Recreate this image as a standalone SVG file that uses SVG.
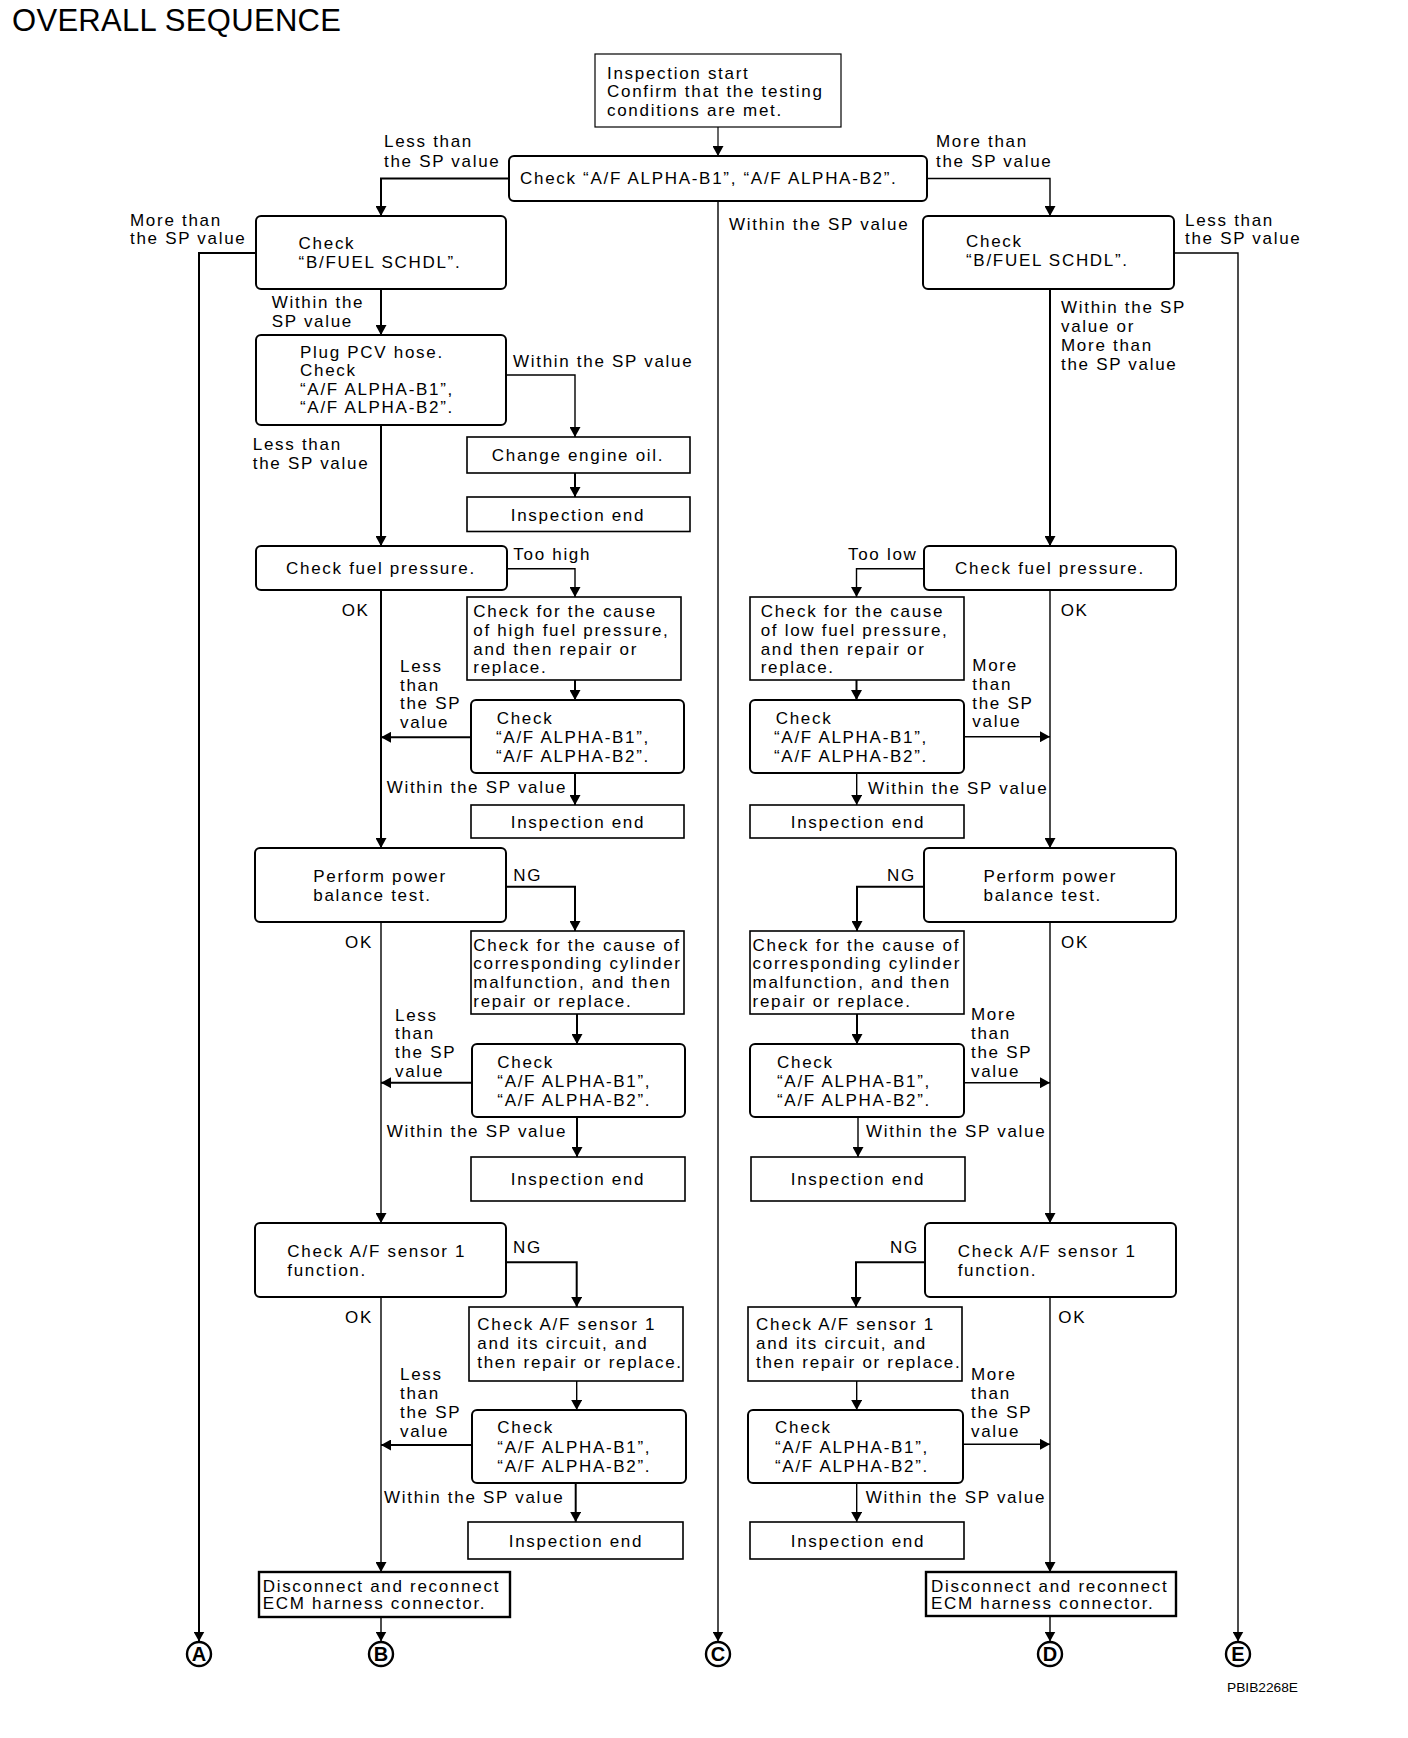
<svg xmlns="http://www.w3.org/2000/svg" width="1408" height="1738" viewBox="0 0 1408 1738">
<style>
  .bg{fill:#fff}
  .r{fill:#fff;stroke:#000;stroke-width:2}
  .s{fill:#fff;stroke:#000;stroke-width:1.6}
  .thin{fill:#fff;stroke:#000;stroke-width:1.2}
  .d{fill:#fff;stroke:#000;stroke-width:2.4}
  text{font-family:"Liberation Sans",Arial,Helvetica,sans-serif;font-size:17px;letter-spacing:1.7px;fill:#000}
  .m{text-anchor:middle}
  .title{font-size:31px;letter-spacing:0.3px}
  .circ{fill:#fff;stroke:#000;stroke-width:2.4}
  .cl{font-size:20px;font-weight:bold;letter-spacing:0;text-anchor:middle}
  .code{font-size:13px;letter-spacing:0}
  .c{fill:none;stroke:#000;stroke-width:2;marker-end:url(#ah)}
  .cr{fill:none;stroke:#000;stroke-width:1.4;marker-end:url(#ah)}
  .ct{fill:none;stroke:#000;stroke-width:1.2;marker-end:url(#ah)}
</style>
<defs>
  <marker id="ah" viewBox="0 0 10 11" refX="10" refY="5.5" markerWidth="10" markerHeight="11" markerUnits="userSpaceOnUse" orient="auto">
    <path d="M0,0 L10,5.5 L0,11 Z" fill="#000"/>
  </marker>
</defs>
<rect class="bg" x="0" y="0" width="1408" height="1738"/>
<text class="title" x="12" y="31">OVERALL SEQUENCE</text>

<g id="connectors">
  <path class="ct" d="M718,127 V156"/>
  <path class="c" d="M509,178.5 H381 V216"/>
  <path class="cr" d="M927,178.5 H1050 V216"/>
  <path class="cr" d="M718,201 V1641.5"/>
  <path class="c" d="M256,253 H199 V1641.5"/>
  <path class="cr" d="M1174,253 H1238 V1641.5"/>
  <path class="c" d="M381,289 V335"/>
  <path class="cr" d="M506,375 H575 V437"/>
  <path class="c" d="M575,473 V497"/>
  <path class="c" d="M381,425 V546"/>
  <path class="cr" d="M507,568.7 H575 V597"/>
  <path class="c" d="M575,680 V700"/>
  <path class="c" d="M471,737.3 H381"/>
  <path class="c" d="M575,773 V805"/>
  <path class="c" d="M381,590 V848"/>
  <path class="c" d="M506,886.7 H575 V931"/>
  <path class="c" d="M577,1014 V1044"/>
  <path class="c" d="M472,1082.7 H381"/>
  <path class="c" d="M577,1117 V1157"/>
  <path class="cr" d="M381,922 V1223"/>
  <path class="c" d="M506,1262.3 H576.7 V1307"/>
  <path class="cr" d="M576.7,1381 V1410"/>
  <path class="c" d="M472,1445 H381"/>
  <path class="c" d="M575.7,1483 V1522"/>
  <path class="cr" d="M381,1297 V1572"/>
  <path class="cr" d="M381,1617 V1641.5"/>

  <path class="c" d="M1050,289 V546"/>
  <path class="cr" d="M924,568.7 H856.5 V597"/>
  <path class="c" d="M856.5,680 V700"/>
  <path class="cr" d="M964,736.7 H1050"/>
  <path class="cr" d="M856.7,773 V805"/>
  <path class="cr" d="M1050,590 V848"/>
  <path class="c" d="M924,886.7 H857 V931"/>
  <path class="c" d="M857,1014 V1044"/>
  <path class="cr" d="M964,1082.7 H1050"/>
  <path class="cr" d="M858,1117 V1157"/>
  <path class="cr" d="M1050,922 V1223"/>
  <path class="c" d="M925,1262.3 H856 V1307"/>
  <path class="cr" d="M856.7,1381 V1410"/>
  <path class="cr" d="M963,1444.3 H1050"/>
  <path class="cr" d="M856.7,1483 V1522"/>
  <path class="cr" d="M1050,1297 V1572"/>
  <path class="cr" d="M1050,1616 V1641.5"/>
</g>

<g id="labels">
  <text x="384" y="147.4">Less than</text>
  <text x="384" y="166.7">the SP value</text>
  <text x="936" y="147.4">More than</text>
  <text x="936" y="166.7">the SP value</text>
  <text x="729" y="230.4">Within the SP value</text>
  <text x="130" y="226">More than</text>
  <text x="130" y="244.4">the SP value</text>
  <text x="1185" y="226">Less than</text>
  <text x="1185" y="244.4">the SP value</text>
  <text x="271.7" y="308">Within the</text>
  <text x="271.7" y="326.7">SP value</text>
  <text x="1061" y="313">Within the SP</text>
  <text x="1061" y="332">value or</text>
  <text x="1061" y="351">More than</text>
  <text x="1061" y="370">the SP value</text>
  <text x="513" y="366.7">Within the SP value</text>
  <text x="252.8" y="450">Less than</text>
  <text x="252.8" y="468.5">the SP value</text>
  <text x="513.3" y="560">Too high</text>
  <text x="848" y="560">Too low</text>
  <text x="341.7" y="615.7">OK</text>
  <text x="1060.7" y="615.7">OK</text>
  <text x="400" y="671.7">Less</text>
  <text x="400" y="690.7">than</text>
  <text x="400" y="709.3">the SP</text>
  <text x="400" y="728">value</text>
  <text x="972.3" y="670.7">More</text>
  <text x="972.3" y="689.7">than</text>
  <text x="972.3" y="708.7">the SP</text>
  <text x="972.3" y="727">value</text>
  <text x="386.7" y="792.7">Within the SP value</text>
  <text x="868" y="793.5">Within the SP value</text>
  <text x="513.3" y="880.7">NG</text>
  <text x="887" y="880.7">NG</text>
  <text x="345" y="948.3">OK</text>
  <text x="1061" y="948.3">OK</text>
  <text x="395" y="1020.7">Less</text>
  <text x="395" y="1039.3">than</text>
  <text x="395" y="1058">the SP</text>
  <text x="395" y="1077">value</text>
  <text x="971" y="1019.5">More</text>
  <text x="971" y="1038.5">than</text>
  <text x="971" y="1057.5">the SP</text>
  <text x="971" y="1076.5">value</text>
  <text x="386.7" y="1136.7">Within the SP value</text>
  <text x="866" y="1136.7">Within the SP value</text>
  <text x="513" y="1252.7">NG</text>
  <text x="890" y="1252.7">NG</text>
  <text x="345" y="1323.3">OK</text>
  <text x="1058.3" y="1323.3">OK</text>
  <text x="400" y="1380">Less</text>
  <text x="400" y="1399">than</text>
  <text x="400" y="1418">the SP</text>
  <text x="400" y="1437">value</text>
  <text x="971" y="1380">More</text>
  <text x="971" y="1399">than</text>
  <text x="971" y="1418">the SP</text>
  <text x="971" y="1437">value</text>
  <text x="384" y="1502.7">Within the SP value</text>
  <text x="865.7" y="1502.7">Within the SP value</text>
</g>

<g id="start">
  <rect class="thin" x="595" y="54" width="246" height="73"/>
  <text x="607" y="78.5">Inspection start</text>
  <text x="607" y="97">Confirm that the testing</text>
  <text x="607" y="115.5">conditions are met.</text>
</g>
<g id="check-main">
  <rect class="r" x="509" y="156" width="418" height="45" rx="5"/>
  <text x="520" y="184.4">Check “A/F ALPHA-B1”, “A/F ALPHA-B2”.</text>
</g>
<g id="L-bfuel">
  <rect class="r" x="256" y="216" width="250" height="73" rx="5"/>
  <text x="298.6" y="249">Check</text>
  <text x="298.6" y="267.5">“B/FUEL SCHDL”.</text>
</g>
<g id="R-bfuel">
  <rect class="r" x="923" y="216" width="251" height="73" rx="5"/>
  <text x="966" y="246.5">Check</text>
  <text x="966" y="266">“B/FUEL SCHDL”.</text>
</g>
<g id="L-pcv">
  <rect class="r" x="256" y="335" width="250" height="90" rx="5"/>
  <text x="300" y="357.5">Plug PCV hose.</text>
  <text x="300" y="376">Check</text>
  <text x="300" y="394.5">“A/F ALPHA-B1”,</text>
  <text x="300" y="413">“A/F ALPHA-B2”.</text>
</g>
<g id="L-oil">
  <rect class="s" x="467" y="437" width="223" height="36"/>
  <text class="m" x="578" y="461">Change engine oil.</text>
</g>
<g id="L-end1">
  <rect class="s" x="467" y="497" width="223" height="34.5"/>
  <text class="m" x="578" y="520.5">Inspection end</text>
</g>
<g id="L-fuel">
  <rect class="r" x="256" y="546" width="251" height="44" rx="5"/>
  <text class="m" x="381" y="574">Check fuel pressure.</text>
</g>
<g id="R-fuel">
  <rect class="r" x="924" y="546" width="252" height="44" rx="5"/>
  <text class="m" x="1050" y="574">Check fuel pressure.</text>
</g>
<g id="L-high">
  <rect class="s" x="467" y="597" width="214" height="83"/>
  <text x="473.3" y="616.7">Check for the cause</text>
  <text x="473.3" y="635.7">of high fuel pressure,</text>
  <text x="473.3" y="654.7">and then repair or</text>
  <text x="473.3" y="673">replace.</text>
</g>
<g id="R-low">
  <rect class="s" x="750" y="597" width="214" height="83"/>
  <text x="760.7" y="616.7">Check for the cause</text>
  <text x="760.7" y="635.7">of low fuel pressure,</text>
  <text x="760.7" y="654.7">and then repair or</text>
  <text x="760.7" y="673">replace.</text>
</g>
<g id="L-check1">
  <rect class="r" x="471" y="700" width="213" height="73" rx="5"/>
  <text x="496.7" y="724">Check</text>
  <text x="496" y="742.7">“A/F ALPHA-B1”,</text>
  <text x="496" y="761.7">“A/F ALPHA-B2”.</text>
</g>
<g id="R-check1">
  <rect class="r" x="750" y="700" width="214" height="73" rx="5"/>
  <text x="775.7" y="724">Check</text>
  <text x="774" y="742.7">“A/F ALPHA-B1”,</text>
  <text x="774" y="761.7">“A/F ALPHA-B2”.</text>
</g>
<g id="L-end2">
  <rect class="s" x="471" y="805" width="213" height="33"/>
  <text class="m" x="578" y="828.3">Inspection end</text>
</g>
<g id="R-end2">
  <rect class="s" x="750" y="805" width="214" height="33"/>
  <text class="m" x="858" y="828.3">Inspection end</text>
</g>
<g id="L-power">
  <rect class="r" x="255" y="848" width="251" height="74" rx="5"/>
  <text x="313.3" y="881.7">Perform power</text>
  <text x="313.3" y="900.7">balance test.</text>
</g>
<g id="R-power">
  <rect class="r" x="924" y="848" width="252" height="74" rx="5"/>
  <text x="983.5" y="881.7">Perform power</text>
  <text x="983.5" y="900.7">balance test.</text>
</g>
<g id="L-cyl">
  <rect class="s" x="471" y="931" width="213" height="83"/>
  <text x="473.3" y="950.7">Check for the cause of</text>
  <text x="473.3" y="969.3">corresponding cylinder</text>
  <text x="473.3" y="988">malfunction, and then</text>
  <text x="473.3" y="1006.7">repair or replace.</text>
</g>
<g id="R-cyl">
  <rect class="s" x="750" y="931" width="214" height="83"/>
  <text x="752.6" y="950.7">Check for the cause of</text>
  <text x="752.6" y="969.3">corresponding cylinder</text>
  <text x="752.6" y="988">malfunction, and then</text>
  <text x="752.6" y="1006.7">repair or replace.</text>
</g>
<g id="L-check2">
  <rect class="r" x="472" y="1044" width="213" height="73" rx="5"/>
  <text x="497.3" y="1068.3">Check</text>
  <text x="497.3" y="1087">“A/F ALPHA-B1”,</text>
  <text x="497.3" y="1106">“A/F ALPHA-B2”.</text>
</g>
<g id="R-check2">
  <rect class="r" x="750" y="1044" width="214" height="73" rx="5"/>
  <text x="777" y="1068.3">Check</text>
  <text x="777" y="1087">“A/F ALPHA-B1”,</text>
  <text x="777" y="1106">“A/F ALPHA-B2”.</text>
</g>
<g id="L-end3">
  <rect class="s" x="471" y="1157" width="214" height="44"/>
  <text class="m" x="578" y="1185">Inspection end</text>
</g>
<g id="R-end3">
  <rect class="s" x="751" y="1157" width="214" height="44"/>
  <text class="m" x="858" y="1185">Inspection end</text>
</g>
<g id="L-afs">
  <rect class="r" x="255" y="1223" width="251" height="74" rx="5"/>
  <text x="287.3" y="1256.7">Check A/F sensor 1</text>
  <text x="287.3" y="1276">function.</text>
</g>
<g id="R-afs">
  <rect class="r" x="925" y="1223" width="251" height="74" rx="5"/>
  <text x="957.7" y="1256.7">Check A/F sensor 1</text>
  <text x="957.7" y="1276">function.</text>
</g>
<g id="L-sensor">
  <rect class="s" x="469" y="1307" width="214" height="74"/>
  <text x="477.3" y="1330">Check A/F sensor 1</text>
  <text x="477.3" y="1349.3">and its circuit, and</text>
  <text x="477.3" y="1368.3">then repair or replace.</text>
</g>
<g id="R-sensor">
  <rect class="s" x="748" y="1307" width="214" height="74"/>
  <text x="756" y="1330">Check A/F sensor 1</text>
  <text x="756" y="1349.3">and its circuit, and</text>
  <text x="756" y="1368.3">then repair or replace.</text>
</g>
<g id="L-check3">
  <rect class="r" x="472" y="1410" width="214" height="73" rx="5"/>
  <text x="497.3" y="1433.3">Check</text>
  <text x="497.3" y="1452.7">“A/F ALPHA-B1”,</text>
  <text x="497.3" y="1471.7">“A/F ALPHA-B2”.</text>
</g>
<g id="R-check3">
  <rect class="r" x="748" y="1410" width="215" height="73" rx="5"/>
  <text x="775" y="1433.3">Check</text>
  <text x="775" y="1452.7">“A/F ALPHA-B1”,</text>
  <text x="775" y="1471.7">“A/F ALPHA-B2”.</text>
</g>
<g id="L-end4">
  <rect class="s" x="468" y="1522" width="215" height="37"/>
  <text class="m" x="576" y="1547">Inspection end</text>
</g>
<g id="R-end4">
  <rect class="s" x="750" y="1522" width="214" height="37"/>
  <text class="m" x="858" y="1547">Inspection end</text>
</g>
<g id="L-disc">
  <rect class="d" x="259" y="1572" width="251" height="45"/>
  <text x="262.7" y="1591.7">Disconnect and reconnect</text>
  <text x="262.7" y="1609">ECM harness connector.</text>
</g>
<g id="R-disc">
  <rect class="d" x="926" y="1572" width="250" height="44"/>
  <text x="931" y="1591.7">Disconnect and reconnect</text>
  <text x="931" y="1609">ECM harness connector.</text>
</g>

<g id="A"><circle class="circ" cx="199" cy="1654" r="12"/><text class="cl" x="199" y="1661.2">A</text></g>
<g id="B"><circle class="circ" cx="381" cy="1654" r="12"/><text class="cl" x="381" y="1661.2">B</text></g>
<g id="C"><circle class="circ" cx="718" cy="1654" r="12"/><text class="cl" x="718" y="1661.2">C</text></g>
<g id="D"><circle class="circ" cx="1050" cy="1654" r="12"/><text class="cl" x="1050" y="1661.2">D</text></g>
<g id="E"><circle class="circ" cx="1238" cy="1654" r="12"/><text class="cl" x="1238" y="1661.2">E</text></g>

<text class="code" x="1227" y="1691.7" textLength="71" lengthAdjust="spacingAndGlyphs">PBIB2268E</text>
</svg>
